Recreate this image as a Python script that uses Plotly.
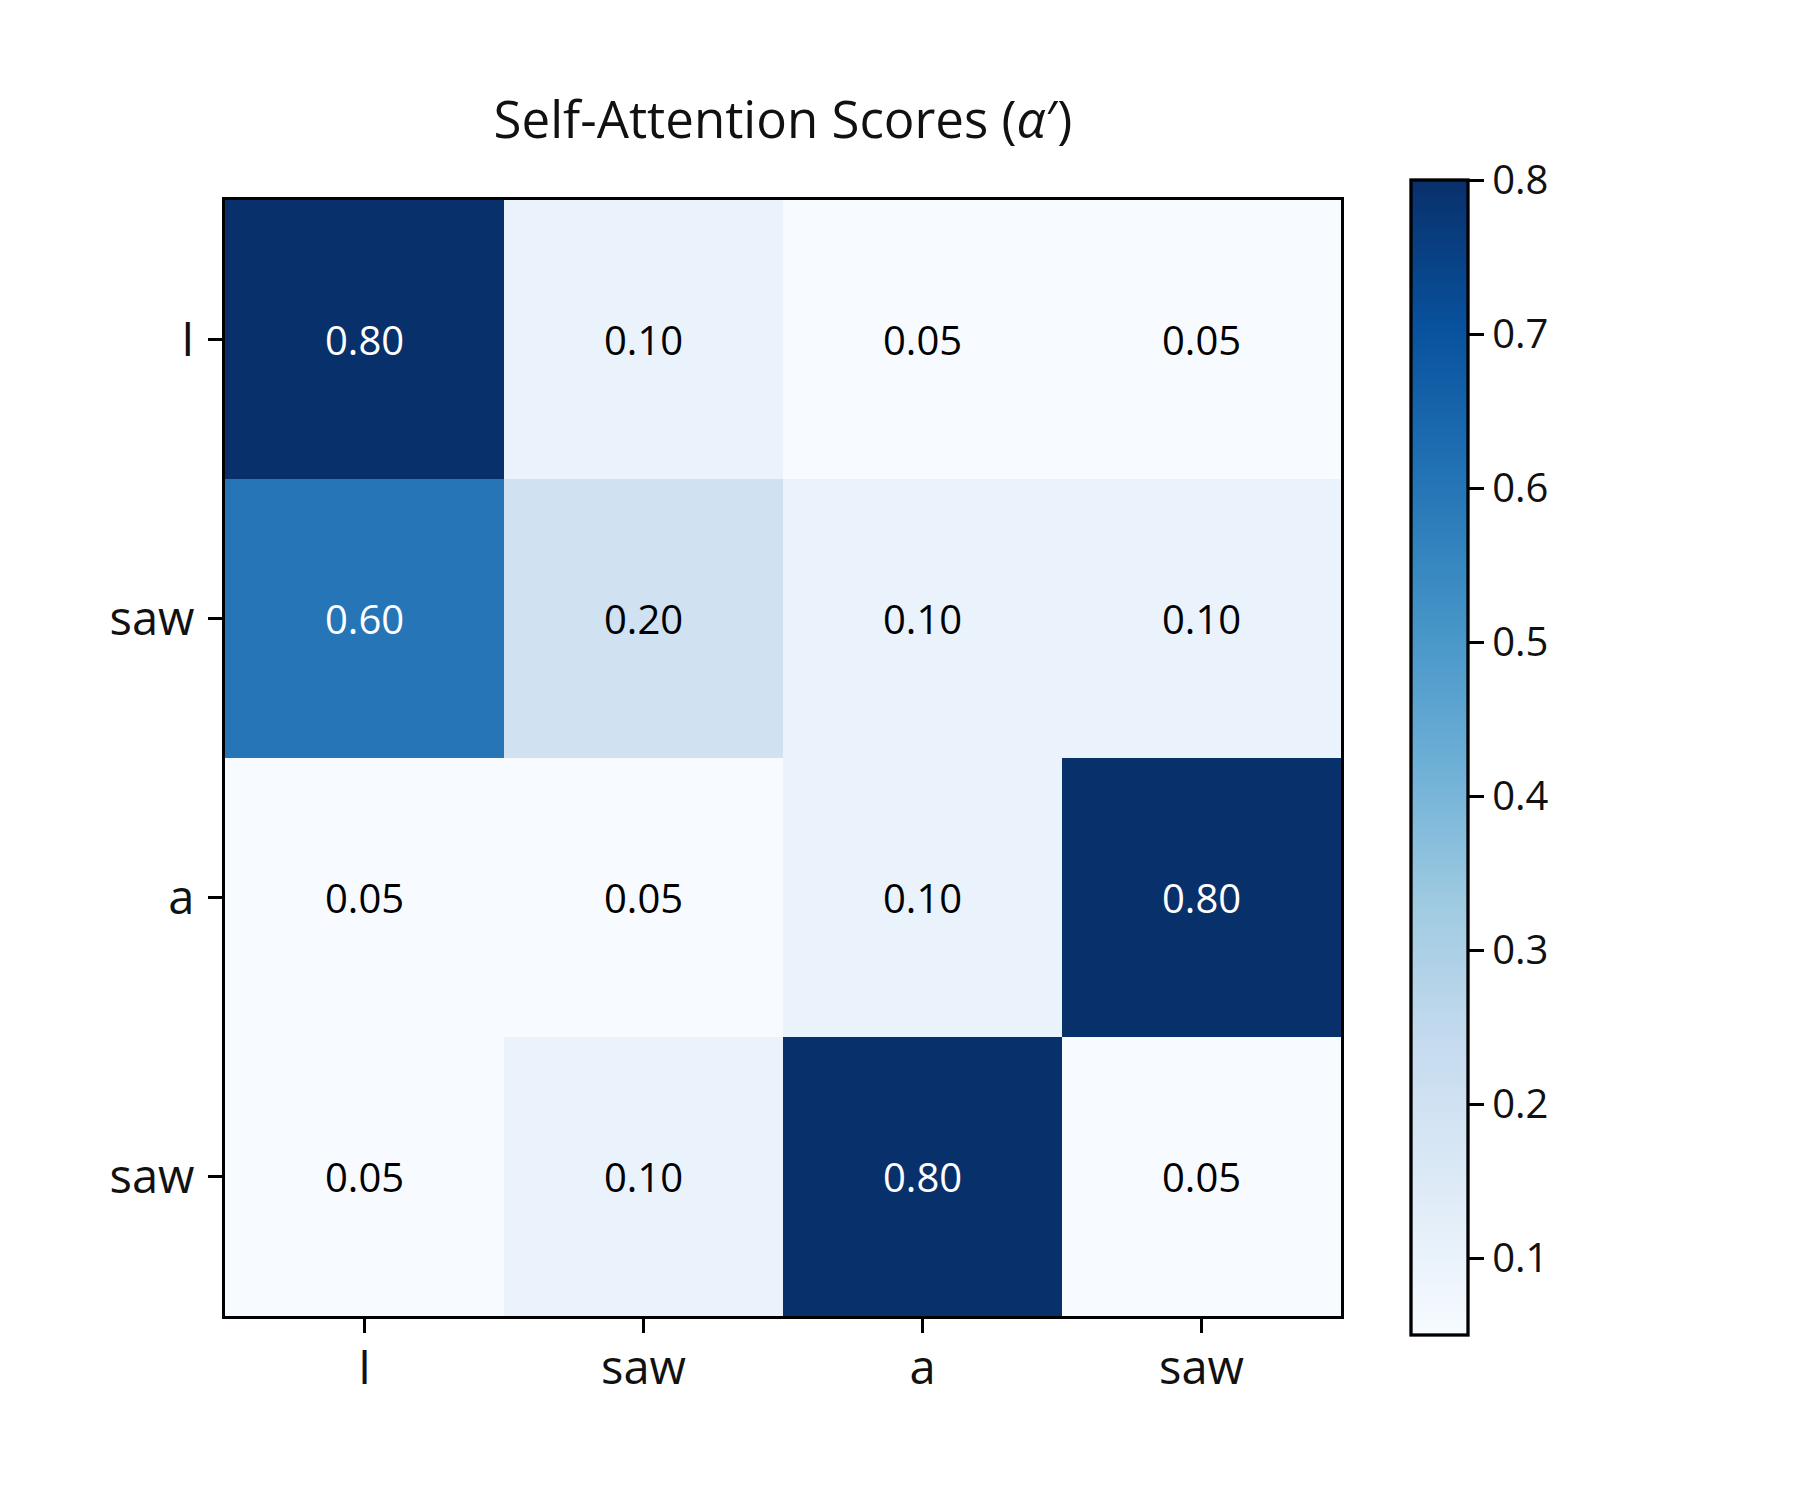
import plotly.graph_objects as go

tokens = ["I", "saw", "a", "saw"]
scores = [
    [0.80, 0.10, 0.05, 0.05],
    [0.60, 0.20, 0.10, 0.10],
    [0.05, 0.05, 0.10, 0.80],
    [0.05, 0.10, 0.80, 0.05],
]
cbar_ticks = [0.1, 0.2, 0.3, 0.4, 0.5, 0.6, 0.7, 0.8]

blues = ['rgb(247,251,255)', 'rgb(222,235,247)', 'rgb(198,219,239)', 'rgb(158,202,225)',
         'rgb(107,174,214)', 'rgb(66,146,198)', 'rgb(33,113,181)', 'rgb(8,81,156)', 'rgb(8,48,107)']
cscale = [[i / (len(blues) - 1), c] for i, c in enumerate(blues)]

FONT = "Open Sans"
vmin, vmax = 0.05, 0.80

idx = list(range(len(tokens)))
fig = go.Figure(go.Heatmap(
    z=scores, x=idx, y=idx, colorscale=cscale, zmin=vmin, zmax=vmax,
    colorbar=dict(
        x=1411 / 1800, xanchor="left", xref="paper", xpad=0, ypad=0,
        y=(1500 - (180 + 1335) / 2) / 1500, yanchor="middle",
        lenmode="pixels", len=1155, thicknessmode="pixels", thickness=57,
        outlinewidth=3.3, outlinecolor="black",
        tickvals=cbar_ticks, ticktext=[f"{v:.1f}" for v in cbar_ticks],
        ticks="outside", ticklen=15, tickwidth=3.3, tickcolor="black",
        tickfont=dict(family=FONT, size=40, color="#111"),
    ),
    hoverinfo="skip",
))

threshold = (vmin + vmax) / 2
for i, row in enumerate(scores):
    for j, v in enumerate(row):
        fig.add_annotation(x=j, y=i, text=f"{v:.2f}", showarrow=False,
                           font=dict(family=FONT, size=40,
                                     color="white" if v > threshold else "black"))

axis_common = dict(
    showline=True, linewidth=3.3, linecolor="black", mirror=True,
    ticks="outside", ticklen=14, tickwidth=3.3, tickcolor="black",
    tickfont=dict(family=FONT, size=47, color="#111"),
    showgrid=False, zeroline=False,
)
fig.update_layout(
    width=1800, height=1500,
    margin=dict(l=0, r=0, t=0, b=0),
    paper_bgcolor="white", plot_bgcolor="white",
    title=dict(text="Self-Attention Scores (<i>α</i>′)", x=783 / 1800, xanchor="center",
               y=1 - 120 / 1500, yanchor="middle",
               font=dict(family=FONT, size=51, color="#111")),
    xaxis=dict(domain=[225 / 1800, 1341 / 1800], tickvals=idx, ticktext=tokens,
               range=[-0.5, 3.5], ticklabelstandoff=-6, **axis_common),
    yaxis=dict(domain=[(1500 - 1316) / 1500, (1500 - 200) / 1500], tickvals=idx, ticktext=tokens,
               range=[3.5, -0.5], ticklabelstandoff=4, **axis_common),
)

fig.write_html("out.html")
